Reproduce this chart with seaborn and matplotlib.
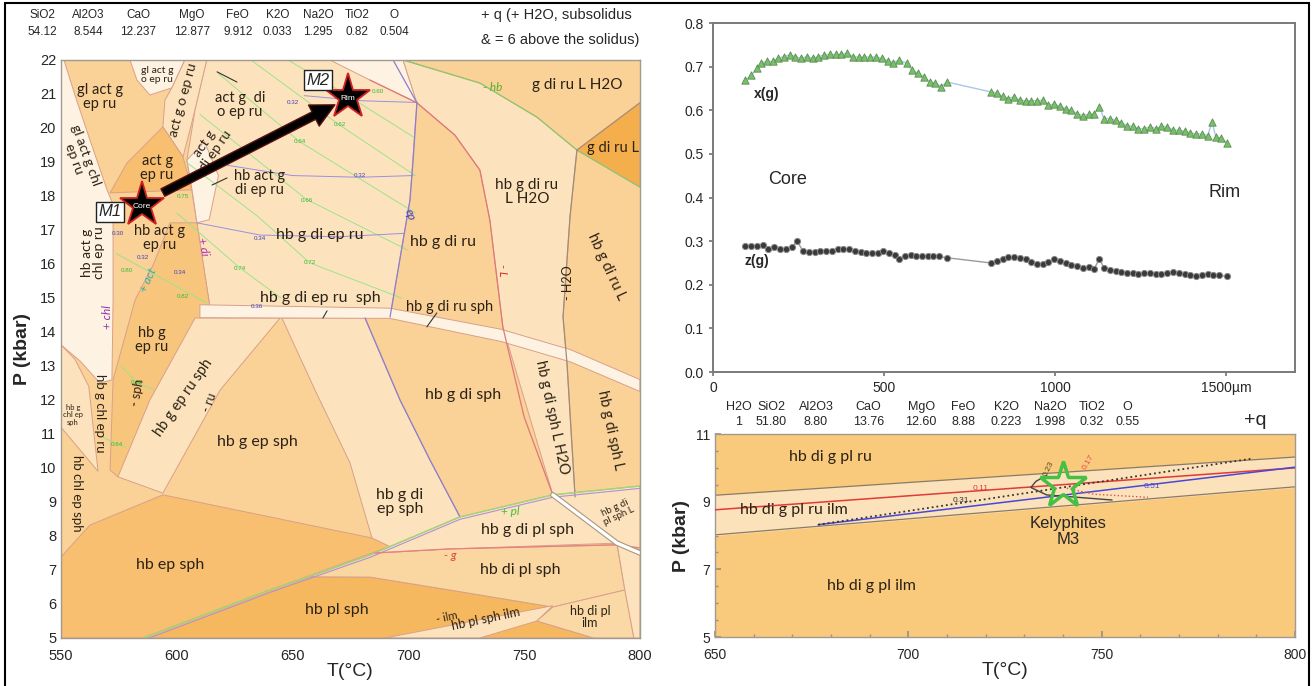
import numpy as np
import pandas as pd
import matplotlib.pyplot as plt
import seaborn as sns
from matplotlib.patches import Polygon, Rectangle

# garnet profile (top right) : distance (um) and x(g), z(g)
xg_dist = [95, 112, 129, 140, 157, 174, 190, 207, 224, 241, 258, 274, 291, 308, 325, 342, 358, 375,
           392, 409, 426, 442, 459, 476, 493, 510, 526, 543, 566, 582, 599, 616, 633, 650, 666, 683,
           812, 829, 846, 862, 879, 896, 913, 930, 946, 963, 980, 997, 1014, 1030, 1047, 1064, 1081,
           1098, 1114, 1129, 1142, 1159, 1176, 1193, 1210, 1226, 1243, 1260, 1277, 1294, 1310, 1327,
           1344, 1361, 1378, 1394, 1411, 1428, 1445, 1458, 1469, 1484, 1501]
xg_val = [0.669, 0.681, 0.696, 0.708, 0.712, 0.712, 0.719, 0.723, 0.727, 0.723, 0.719, 0.723,
          0.719, 0.723, 0.727, 0.728, 0.728, 0.728, 0.731, 0.723, 0.722, 0.722, 0.722, 0.722,
          0.719, 0.714, 0.709, 0.715, 0.708, 0.692, 0.685, 0.677, 0.665, 0.662, 0.654, 0.665,
          0.642, 0.640, 0.632, 0.627, 0.631, 0.623, 0.622, 0.622, 0.622, 0.623, 0.612, 0.614,
          0.609, 0.604, 0.600, 0.592, 0.588, 0.591, 0.592, 0.608, 0.581, 0.581, 0.577, 0.571,
          0.565, 0.563, 0.558, 0.558, 0.562, 0.558, 0.563, 0.562, 0.555, 0.554, 0.552, 0.548,
          0.546, 0.546, 0.542, 0.573, 0.538, 0.537, 0.525]
zg_dist = [95, 112, 129, 146, 162, 179, 196, 213, 230, 246, 263, 280, 297, 314, 330, 347, 364, 381,
           398, 414, 431, 448, 465, 482, 498, 515, 532, 543, 560, 577, 594, 610, 627, 644, 661, 683,
           812, 829, 846, 862, 879, 896, 913, 930, 946, 963, 980, 997, 1014, 1030, 1047, 1064, 1081,
           1098, 1114, 1129, 1142, 1159, 1176, 1193, 1210, 1226, 1243, 1260, 1277, 1294, 1310, 1327,
           1344, 1361, 1378, 1394, 1411, 1428, 1445, 1462, 1478, 1501]
zg_val = [0.288, 0.288, 0.288, 0.292, 0.281, 0.286, 0.283, 0.281, 0.286, 0.300, 0.277, 0.275,
          0.275, 0.278, 0.277, 0.278, 0.281, 0.282, 0.281, 0.278, 0.275, 0.273, 0.272, 0.273,
          0.278, 0.273, 0.268, 0.260, 0.265, 0.268, 0.265, 0.265, 0.265, 0.265, 0.265, 0.262,
          0.250, 0.255, 0.260, 0.263, 0.263, 0.262, 0.258, 0.252, 0.248, 0.248, 0.252, 0.258,
          0.254, 0.250, 0.246, 0.242, 0.238, 0.240, 0.237, 0.260, 0.238, 0.235, 0.232, 0.229,
          0.227, 0.227, 0.225, 0.227, 0.227, 0.225, 0.225, 0.227, 0.229, 0.227, 0.225, 0.222,
          0.219, 0.222, 0.225, 0.223, 0.222, 0.219]

# bulk compositions
oxides_1 = ['SiO2', 'Al2O3', 'CaO', 'MgO', 'FeO', 'K2O', 'Na2O', 'TiO2', 'O']
values_1 = ['54.12', '8.544', '12.237', '12.877', '9.912', '0.033', '1.295', '0.82', '0.504']
oxides_2 = ['H2O', 'SiO2', 'Al2O3', 'CaO', 'MgO', 'FeO', 'K2O', 'Na2O', 'TiO2', 'O']
values_2 = ['1', '51.80', '8.80', '13.76', '12.60', '8.88', '0.223', '1.998', '0.32', '0.55']

# left pseudosection fields, (T, P) vertices
fld_chl_strip = [(550, 22), (551.3, 22), (556, 20.97), (562.5, 19.65), (569.9, 18.18), (572.5, 17.74),
                 (572.5, 14.94), (572, 12.59), (566.8, 12.5), (558.2, 13.15), (550, 13.62)]
fld_chl_sph = [(550, 13.62), (556, 13.2), (562, 12.4), (566, 9.9), (550, 11.2)]
fld_glo_top = [(579.8, 22), (603.5, 22), (597.9, 21.18), (588.4, 20.97), (582.8, 21.41)]
fld_o_band = [(603.5, 22), (613, 22), (607.9, 20.53), (602.7, 19.15), (594, 20.03), (594.9, 20.82),
              (597.9, 21.18)]
fld_act_g_ep = [(594, 20.03), (602.7, 19.15), (606.6, 18.18), (571.2, 18.09), (578.5, 18.97)]
fld_di_ep = [(613, 22), (693.4, 22), (703.7, 20.74), (700.7, 17.88), (692.1, 14.44), (614.3, 14.74),
             (608.7, 17.21), (604.4, 19.06), (607.9, 20.53)]
fld_rim_wedge = [(666.1, 22), (697.7, 22), (703.7, 20.74), (683.4, 21.41)]
fld_core_white = [(604.4, 19.06), (612, 19.6), (618, 18.6), (614, 17.3), (608.7, 17.21), (606.6, 18.18)]
fld_melt_band = [(697.7, 22), (730.9, 21.32), (755.5, 20.32), (772.8, 19.35), (769.8, 17.38),
                 (766.8, 14.44), (768.5, 13.09), (772, 9.15), (762.4, 9.21), (740.8, 14.15),
                 (735.2, 17.29), (730.9, 18.76), (720.1, 19.79), (703.7, 20.74)]
fld_g_di_ru_L = [(772.8, 19.35), (800, 20.74), (800, 18.26)]
fld_hb_g_ep_ru = [(597.1, 17.21), (608.7, 17.21), (614.3, 14.74), (610, 14.41), (574.6, 9.74),
                  (571.2, 9.94), (572.5, 12.59), (582, 14.94), (590, 16.0)]
fld_ep_ru_sph = [(574.6, 9.74), (588.4, 12), (607.9, 14.41), (644.6, 14.41), (618.7, 12.29), (594, 9.26)]
fld_sph_band = [(610, 14.8), (692, 14.7), (740, 14.08), (770, 13.48), (800, 12.6), (800, 12.25),
                (770, 13.12), (740, 13.72), (692, 14.4), (610, 14.42)]
fld_di_ep_sph = [(645.4, 14.41), (659.7, 12.29), (674.8, 10.15), (684.3, 7.94), (690, 7.6),
                 (722.3, 8.56), (709.3, 10.24), (696.4, 12), (681.3, 14.41)]
fld_hb_ep_sph = [(550, 7.38), (562.5, 8.32), (594, 9.21), (684.3, 7.94), (692, 7.69), (640.2, 6.41),
                 (585.4, 5), (550, 5)]
fld_hb_pl_sph = [(585.4, 5), (640.2, 6.41), (657.5, 6.8), (683.4, 6.79), (718, 6.41), (762.4, 5.91),
                 (755.5, 5.5), (780, 5)]
fld_di_pl_sph = [(657.5, 6.8), (685.6, 7.5), (718, 7.62), (790.1, 7.74), (793.5, 6.41), (762.4, 5.91),
                 (718, 6.41), (683.4, 6.79)]
fld_g_di_pl_sph = [(685.6, 7.5), (722.3, 8.56), (762.4, 9.21), (790.1, 7.79), (718, 7.62)]
fld_g_di_pl_L = [(762.4, 9.21), (800, 9.47), (800, 7.59), (790.1, 7.79)]
fld_ilm_band = [(689.9, 5), (762.4, 5.95), (755.5, 5.5), (730.9, 5)]
fld_di_pl_ilm = [(755.5, 5.5), (762.4, 5.91), (793.5, 6.41), (797.4, 5), (780, 5)]
fld_right_strip = [(793.5, 6.41), (790.1, 7.79), (800, 7.59), (800, 5), (797.4, 5)]

# reaction lines
ln_solidus = [(683.4, 21.41), (703.7, 20.74), (720.1, 19.79), (730.9, 18.76), (735.2, 17.29),
              (740.8, 14.15), (750, 11.5), (762.4, 9.21)]
ln_ep_out = [(693.4, 22), (703.7, 20.74), (702, 19), (700.7, 17.88), (696, 16), (692.1, 14.44)]
ln_ep_out2 = [(681.3, 14.41), (696.4, 12), (709.3, 10.24), (722.3, 8.56)]
ln_hb_out = [(697.7, 22), (730.9, 21.32), (755.5, 20.32), (772.8, 19.35), (800, 18.26)]
ln_h2o = [(772.8, 19.35), (769.8, 17.38), (766.8, 14.44), (768.5, 13.09), (772, 9.15)]
ln_pl_in = [(585.4, 5), (640.2, 6.41), (683.4, 7.44), (722.3, 8.56), (762.4, 9.21), (800, 9.47)]
ln_g_out = [(685.6, 7.5), (718, 7.62), (790.1, 7.74), (800, 7.65)]
ln_white = [(762.4, 9.21), (790.1, 7.79), (800, 7.5)]
iso_green = [
    [(648, 22), (675, 20.9), (703, 19.7)],
    [(632, 22), (670, 20.1), (703, 18.6)],
    [(618, 21.6), (653, 19.6), (703, 17.5)],
    [(610, 20.4), (656, 17.9), (700, 16.4)],
    [(604, 19.0), (635, 17.4), (657.5, 16.03), (697, 15.0)],
    [(600, 17.5), (627.3, 15.88), (645, 15.0)],
    [(574, 16.3), (613, 14.85)],
    [(576, 13.0), (582.8, 12.5), (590, 12.3)],
    [(568, 10.9), (578, 10.6)],
]
iso_purple = [
    [(655, 20.95), (680, 20.8), (704, 20.75)],
    [(622, 18.9), (650, 18.6), (679, 18.55), (702, 18.6)],
    [(608.7, 17.21), (636, 16.85), (670, 16.8), (698, 16.9)],
]
iso_green_lab = [('0.60', 686.9, 21.06), ('0.62', 670.5, 20.09), ('0.64', 653.2, 19.59),
                 ('0.66', 656.2, 17.88), ('0.72', 657.5, 16.03), ('0.74', 627.3, 15.88),
                 ('0.75', 602.7, 17.97), ('0.80', 578.5, 15.82), ('0.82', 602.7, 15.03),
                 ('0.62', 582.8, 12.5), ('0.64', 574.2, 10.68)]
iso_purple_lab = [('0.30', 574.6, 16.91), ('0.32', 585.4, 16.18), ('0.34', 601.4, 15.76),
                  ('0.34', 635.9, 16.76), ('0.36', 634.6, 14.74), ('0.32', 679.1, 18.59),
                  ('0.32', 650.2, 20.74)]

# field labels: text, T, P, size, rotation
field_labels = [
    ('gl act g\nep ru', 566.8, 20.91, 10.5, 0), ('gl act g\no ep ru', 591.5, 21.56, 7.5, 0),
    ('act g o ep ru', 602.7, 20.82, 10, 75), ('act g  di\no ep ru', 627.3, 20.68, 10.5, 0),
    ('act g\ndi ep ru', 614.3, 19.44, 10, 55), ('gl act g chl\nep ru', 558.2, 19.15, 10, -70),
    ('act g\nep ru', 591.5, 18.82, 10.5, 0), ('hb act g\ndi ep ru', 635.9, 18.38, 10.5, 0),
    ('hb act g\nep ru', 592.7, 16.76, 10.5, 0), ('hb act g\nchl ep ru', 563.8, 16.32, 10, 90),
    ('hb g di ep ru', 661.8, 16.85, 11.5, 0), ('hb g di ep ru  sph', 661.8, 15.0, 11.5, 0),
    ('hb g\nep ru', 589.3, 13.76, 10.5, 0), ('g di ru L H2O', 772.8, 21.26, 11, 0),
    ('g di ru L', 788.3, 19.41, 10.5, 0), ('hb g di ru\nL H2O', 751.2, 18.12, 11, 0),
    ('hb g di ru', 714.9, 16.65, 11.5, 0), ('hb g di ru L', 785.8, 15.91, 10.5, -65),
    ('hb g di ru sph', 718, 14.74, 10.5, 0), ('hb g chl ep ru', 566.8, 11.62, 9.5, -90),
    ('hb g\nchl ep\nsph', 555.2, 11.56, 5.5, 0), ('hb chl ep sph', 556.9, 9.26, 9.5, -90),
    ('hb g ep ru sph', 602.7, 12.06, 10.5, 55), ('hb g ep sph', 634.6, 10.76, 11.5, 0),
    ('hb ep sph', 597.1, 7.15, 11.5, 0), ('hb pl sph', 669.2, 5.82, 11.5, 0),
    ('hb g di sph', 723.6, 12.15, 11.5, 0), ('hb g di sph L H2O', 762, 11.5, 10.5, -78),
    ('hb g di sph L', 787, 11.12, 10.5, -78), ('hb g di\nep sph', 696.4, 9.0, 11.5, 0),
    ('hb g di pl sph', 751.6, 8.18, 11.5, 0), ('hb g di\npl sph L', 790.1, 8.71, 7, 25),
    ('hb di pl sph', 748.2, 7.0, 11.5, 0), ('hb pl sph ilm', 733.5, 5.55, 9, 12),
    ('hb di pl\nilm', 778.4, 5.62, 9, 0), ('- sph', 583.2, 12.21, 9, 80),
    ('- ru', 614.3, 11.94, 9, 70), ('- H2O', 769, 15.44, 9, 90), ('- ilm', 716.7, 5.62, 8, 12),
]
# coloured reaction labels: text, T, P, colour, rotation
reaction_labels = [
    ('- hb', 736.5, 21.18, '#55B030', 0), ('ep', 700.7, 17.44, '#4040C0', -70),
    ('- L', 740.8, 15.82, '#D03030', -90), ('+ chl', 569.9, 14.44, '#9030B0', 90),
    ('+ di', 611.3, 16.5, '#B030B0', -80), ('+ act', 587.6, 15.53, '#30B0B0', 65),
    ('+ pl', 743.9, 8.71, '#40C040', 0), ('- g', 718, 7.44, '#E04040', 0),
]
core_pt = (585.0, 17.74)
rim_pt = (673.9, 20.91)

# bottom right pseudosection
br_T = [650, 800]
br_upper = [9.19, 10.32]
br_lower = [8.02, 9.44]
br_red = [8.76, 10.0]
br_blue_T = [676.7, 800]
br_blue_P = [8.32, 10.02]
br_dot_T = [676.7, 788.7]
br_dot_P = [8.32, 10.27]
br_curve_T = [735.8, 733, 731.7, 735.8, 752.7]
br_curve_P = [9.78, 9.6, 9.42, 9.2, 9.05]
br_rdot_T = [741, 748, 762]
br_rdot_P = [9.4, 9.22, 9.13]
m3_pt = (739.9, 9.49)

C_WHITE = '#FEF3E3'
C_LIGHT = '#FDE3BD'
C_MID = '#FAD197'
C_DARK = '#F7BF6F'
C_DARKER = '#F4AE4C'
C_PLAG = '#F6B85E'
EDGE = '#D9A08A'

sns.set_theme(style='white')
plt.rcParams['font.family'] = ['Liberation Sans', 'DejaVu Sans']
LBL = ['Lato', 'DejaVu Sans']

fig = plt.figure(figsize=(13.14, 6.86), dpi=100)
ax1 = fig.add_axes([0.0464, 0.0700, 0.4406, 0.8426])
ax2 = fig.add_axes([0.5426, 0.4577, 0.4429, 0.5087])
ax3 = fig.add_axes([0.5441, 0.0714, 0.4414, 0.2959])


def line(ax, pts, **kw):
    t, p = zip(*pts)
    ax.plot(t, p, **kw)


# ---------- left pseudosection ----------
ax1.set_facecolor(C_MID)
fields = [
    (fld_chl_strip, C_WHITE), (fld_chl_sph, C_LIGHT), (fld_glo_top, C_WHITE), (fld_o_band, C_LIGHT),
    (fld_act_g_ep, C_DARK), (fld_di_ep, C_LIGHT), (fld_rim_wedge, C_WHITE), (fld_core_white, C_WHITE),
    (fld_melt_band, C_LIGHT), (fld_g_di_ru_L, C_DARKER), (fld_hb_g_ep_ru, '#F8C57C'),
    (fld_ep_ru_sph, C_LIGHT), (fld_di_ep_sph, C_LIGHT), (fld_hb_ep_sph, C_DARK),
    (fld_hb_pl_sph, C_PLAG), (fld_di_pl_sph, '#FAD6A0'), (fld_g_di_pl_sph, C_LIGHT),
    (fld_g_di_pl_L, C_LIGHT), (fld_ilm_band, C_LIGHT), (fld_di_pl_ilm, '#FBD9A6'),
    (fld_right_strip, C_LIGHT), (fld_sph_band, C_WHITE),
]
for verts, col in fields:
    ax1.add_patch(Polygon(verts, closed=True, fc=col, ec=EDGE, lw=0.7, zorder=1))

for iso in iso_green:
    line(ax1, iso, color='#9BE38A', lw=0.7, zorder=2)
for iso in iso_purple:
    line(ax1, iso, color='#9A8FE0', lw=0.7, zorder=2)
for s, t, p in iso_green_lab:
    ax1.text(t, p, s, fontsize=4.5, color='#33BB33', ha='center', va='center', zorder=3)
for s, t, p in iso_purple_lab:
    ax1.text(t, p, s, fontsize=4.5, color='#4040C0', ha='center', va='center', zorder=3)

line(ax1, ln_solidus, color='#E07878', lw=0.9, zorder=2)
line(ax1, ln_ep_out, color='#8A7FD0', lw=0.9, zorder=2)
line(ax1, ln_ep_out2, color='#8A7FD0', lw=0.9, zorder=2)
line(ax1, ln_hb_out, color='#8CC870', lw=0.9, zorder=2)
line(ax1, ln_h2o, color='#A08C78', lw=0.9, zorder=2)
line(ax1, [(772.8, 19.35), (800, 20.74)], color='#A08C78', lw=0.8, zorder=2)
line(ax1, ln_pl_in, color='#9CD87A', lw=1.0, zorder=2)
t_pl, p_pl = zip(*ln_pl_in)
ax1.plot(t_pl, np.array(p_pl) - 0.07, color='#B090D8', lw=0.8, zorder=2)
line(ax1, ln_g_out, color='#E98080', lw=0.9, zorder=2)
line(ax1, ln_white, color='#A89880', lw=4, zorder=2)
line(ax1, ln_white, color='white', lw=2.4, zorder=2)
for a, b in [((617.4, 21.65), (626, 21.35)), ((615.2, 18.32), (621.7, 18.53)),
             ((708, 14.15), (712.3, 14.56)), ((663.1, 14.41), (664.9, 14.62))]:
    line(ax1, [a, b], color='#333333', lw=0.8, zorder=3)

for s, t, p, fs, rot in field_labels:
    ax1.text(t, p, s, fontsize=fs, rotation=rot, ha='center', va='center', color='#2B2216',
             family=LBL, linespacing=1.05, rotation_mode='anchor', zorder=4)
for s, t, p, col, rot in reaction_labels:
    ax1.text(t, p, s, fontsize=8.5, rotation=rot, ha='center', va='center', color=col,
             style='italic', family=LBL, rotation_mode='anchor', zorder=4)

ax1.annotate('', xy=(668.3, 20.68), xytext=(594.0, 18.1),
             arrowprops=dict(facecolor='black', edgecolor='#551010', width=6, headwidth=17,
                             headlength=17, shrink=0), zorder=5)
for (t, p), s in [(core_pt, 'Core'), (rim_pt, 'Rim')]:
    ax1.plot(t, p, marker='*', ms=34, mfc='black', mec='#D02020', mew=1.3, zorder=6)
    ax1.text(t, p - 0.05, s, fontsize=6, color='white', ha='center', va='center', zorder=7)
ax1.text(571.2, 17.53, 'M1', fontsize=12, ha='center', va='center', zorder=7, style='italic',
         bbox=dict(boxstyle='square,pad=0.15', fc='white', ec='#222222', lw=1))
ax1.text(661.0, 21.41, 'M2', fontsize=12, ha='center', va='center', zorder=7, style='italic',
         bbox=dict(boxstyle='square,pad=0.15', fc='white', ec='#222222', lw=1))

ax1.set_xlim(550, 800)
ax1.set_ylim(5, 22)
ax1.set_xticks(range(550, 801, 50))
ax1.set_xticks(range(550, 801, 10), minor=True)
ax1.set_yticks(range(5, 23))
ax1.set_yticks(np.arange(5, 22.01, 0.5), minor=True)
ax1.tick_params(axis='both', which='both', direction='in', labelsize=10.5, color='#C09080')
ax1.tick_params(which='major', length=4)
ax1.tick_params(which='minor', length=2.5)
ax1.tick_params(axis='x', pad=8)
ax1.set_xlabel('T(°C)', fontsize=14, labelpad=0)
ax1.set_ylabel('P (kbar)', fontsize=14, fontweight='bold', labelpad=6)
for sp in ax1.spines.values():
    sp.set_color('#A09A90')
    sp.set_linewidth(1)

x_hdr1 = [0.032, 0.067, 0.105, 0.146, 0.181, 0.211, 0.242, 0.272, 0.300]
for x, o, v in zip(x_hdr1, oxides_1, values_1):
    fig.text(x, 0.978, o, fontsize=8.5, ha='center', va='center')
    fig.text(x, 0.953, v, fontsize=8.5, ha='center', va='center')
fig.text(0.366, 0.978, '+ q (+ H2O, subsolidus', fontsize=10.5, ha='left', va='center')
fig.text(0.366, 0.942, '& = 6 above the solidus)', fontsize=10.5, ha='left', va='center')

# ---------- garnet profile ----------
prof_x = pd.DataFrame({'dist': xg_dist, 'val': xg_val})
prof_z = pd.DataFrame({'dist': zg_dist, 'val': zg_val})
sns.lineplot(data=prof_x, x='dist', y='val', sort=False, color='#A9C8E6', lw=1, ax=ax2)
sns.scatterplot(data=prof_x, x='dist', y='val', marker='^', s=28, color='#78C06A',
                edgecolor='#5C8E50', linewidth=0.6, ax=ax2, zorder=3)
sns.lineplot(data=prof_z, x='dist', y='val', sort=False, color='#9A9A9A', lw=1, ax=ax2)
sns.scatterplot(data=prof_z, x='dist', y='val', marker='o', s=20, color='#3A3A3A',
                edgecolor='#8A8A8A', linewidth=0.7, ax=ax2, zorder=3)
ax2.set_xlim(0, 1700)
ax2.set_ylim(0, 0.8)
ax2.set_xticks([0, 500, 1000, 1500])
ax2.set_xticklabels(['0', '500', '1000', '1500µm'])
ax2.set_yticks(np.arange(0, 0.81, 0.1))
ax2.set_yticklabels(['%.1f' % v for v in np.arange(0, 0.81, 0.1)])
ax2.set_xlabel('')
ax2.set_ylabel('')
ax2.tick_params(labelsize=10, length=3, color='#777777', direction='out', bottom=True, left=True)
for sp in ax2.spines.values():
    sp.set_color('#7A7A7A')
    sp.set_linewidth(1.4)
ax2.text(157, 0.638, 'x(g)', fontsize=10, fontweight='bold', ha='center', va='center')
ax2.text(129, 0.254, 'z(g)', fontsize=10, fontweight='bold', ha='center', va='center')
ax2.text(218, 0.442, 'Core', fontsize=13, ha='center', va='center')
ax2.text(1495, 0.412, 'Rim', fontsize=13, ha='center', va='center')

# ---------- bottom right pseudosection ----------
ax3.set_facecolor('#F9C97C')
ax3.fill_between(br_T, br_lower, br_upper, color='#FCE2BA', zorder=1)
ax3.plot(br_T, br_upper, color='#8A7A66', lw=0.9, zorder=2)
ax3.plot(br_T, br_lower, color='#8A7A66', lw=0.9, zorder=2)
ax3.plot(br_T, br_red, color='#E03A3A', lw=1.1, zorder=3)
ax3.plot(br_blue_T, br_blue_P, color='#4848D8', lw=1.1, zorder=3)
ax3.plot(br_dot_T, br_dot_P, color='#333333', lw=1.3, ls=':', zorder=3)
ax3.plot(br_curve_T, br_curve_P, color='#444444', lw=1.0, zorder=3)
ax3.plot(br_rdot_T, br_rdot_P, color='#E05050', lw=1.0, ls=':', zorder=3)
ax3.text(718.8, 9.39, '0.11', fontsize=6, color='#E03A3A', ha='center', va='center')
ax3.text(713.7, 9.05, '0.31', fontsize=6, color='#333333', ha='center', va='center')
ax3.text(736.2, 9.97, '0.23', fontsize=6, color='#5A4A20', ha='center', va='center', rotation=65)
ax3.text(746.6, 10.17, '0.17', fontsize=6, color='#E05050', ha='center', va='center', rotation=60)
ax3.text(763, 9.44, '0.51', fontsize=6, color='#4848D8', ha='center', va='center')
ax3.plot(*m3_pt, marker='*', ms=35, mfc='none', mec='#44C044', mew=2.5, zorder=5)
ax3.text(741.4, 8.12, 'Kelyphites\nM3', fontsize=12, ha='center', va='center', linespacing=1.1)
ax3.text(679.8, 10.32, 'hb di g pl ru', fontsize=11.5, family=LBL, color='#2B2216',
         ha='center', va='center')
ax3.text(670.5, 8.76, 'hb di g pl ru ilm', fontsize=11.5, family=LBL, color='#2B2216',
         ha='center', va='center')
ax3.text(690.5, 6.51, 'hb di g pl ilm', fontsize=11.5, family=LBL, color='#2B2216',
         ha='center', va='center')
ax3.set_xlim(650, 800)
ax3.set_ylim(5, 11)
ax3.set_xticks([650, 700, 750, 800])
ax3.set_xticks(range(650, 801, 10), minor=True)
ax3.set_yticks([5, 7, 9, 11])
ax3.set_yticks(np.arange(5, 11.01, 0.5), minor=True)
ax3.tick_params(axis='both', which='both', direction='in', labelsize=10, color='#A09080',
                bottom=True, left=True)
ax3.tick_params(which='major', length=4)
ax3.tick_params(which='minor', length=2.5)
ax3.tick_params(axis='x', pad=8)
ax3.set_xlabel('T(°C)', fontsize=14, labelpad=0)
ax3.set_ylabel('P (kbar)', fontsize=14, fontweight='bold', labelpad=4)
for sp in ax3.spines.values():
    sp.set_color('#A09A90')
    sp.set_linewidth(1)

x_hdr2 = [0.562, 0.587, 0.621, 0.661, 0.701, 0.733, 0.766, 0.799, 0.831, 0.858]
for x, o, v in zip(x_hdr2, oxides_2, values_2):
    fig.text(x, 0.407, o, fontsize=9, ha='center', va='center')
    fig.text(x, 0.385, v, fontsize=9, ha='center', va='center')
fig.text(0.955, 0.387, '+q', fontsize=14, ha='center', va='center')

fig.patches.append(Rectangle((0.004, -0.01), 0.992, 1.006, transform=fig.transFigure,
                             fill=False, ec='black', lw=1.5))

plt.savefig('out.png', dpi=100)
